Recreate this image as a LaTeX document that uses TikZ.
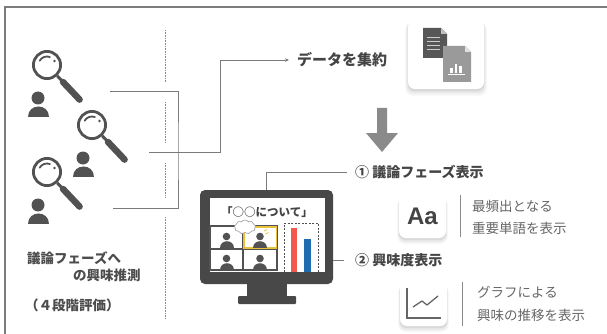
\documentclass[tikz,border=0pt]{standalone}
\usepackage{fontspec}
\newfontfamily\jp{Noto Sans CJK JP}
\newfontfamily\lat{Liberation Sans}
\usetikzlibrary{arrows.meta,shadows,shapes.symbols}

\definecolor{ink}{HTML}{444444}
\definecolor{wirec}{HTML}{7A7A7A}
\definecolor{framec}{HTML}{7C7C7C}
\definecolor{soft}{HTML}{666666}
\definecolor{iconc}{HTML}{525252}
\definecolor{screenc}{HTML}{484848}
\definecolor{arrowc}{HTML}{8A8A8A}
\definecolor{hl}{HTML}{E8C23A}
\definecolor{barred}{HTML}{F2594B}
\definecolor{barblue}{HTML}{1F6CB0}
\definecolor{docdark}{HTML}{575757}
\definecolor{doclight}{HTML}{9A9A9A}

\tikzset{
  wire/.style={draw=wirec, line width=0.9pt},
  divider/.style={draw=arrowc, line width=0.8pt, dash pattern=on 0.8pt off 0.8pt},
  headline/.style={font=\jp\bfseries\fontsize{14}{16}\selectfont, text=ink, inner sep=0pt, anchor=west},
  sidenote/.style={font=\jp\bfseries\fontsize{13.5}{16}\selectfont, text=black!70, inner sep=0pt, anchor=west},
  note/.style={font=\jp\fontsize{13.5}{22.5}\selectfont, text=soft, align=left, inner sep=0pt, anchor=west},
  sep/.style={draw=arrowc, line width=1pt},
  iconbox/.style={rounded corners=7pt, fill=white, draw=none,
    general shadow={fill=black, opacity=0.04, shadow yshift=-4pt, shadow scale=1.07},
    general shadow={fill=black, opacity=0.05, shadow yshift=-3pt, shadow scale=1.04},
    general shadow={fill=black, opacity=0.07, shadow yshift=-2pt, shadow scale=1.01}},
  seeker/.pic={
    \draw[line width=2.8pt, draw=iconc] (0,0) circle (13.6);
    \draw[line width=1.8pt, draw=iconc, line cap=round] (-150:8.5) arc[start angle=-150, end angle=-70, radius=8.5];
    \fill[iconc] (-28:8.5) circle (1.4);
    \draw[line width=3pt, draw=iconc] (10.3,10.9) -- (15.1,16);
    \draw[line width=6.5pt, draw=iconc, line cap=round] (16,17) -- (32.6,34.6);
    \fill[iconc] (-9,33) circle (6.5);
    \fill[iconc] (-19.5,52) .. controls (-19.5,38) and (1.5,38) .. (1.5,52) -- cycle;
  },
  viewer/.pic={
    \fill[iconc] (0,-11.5) circle (3.8);
    \fill[iconc] (-7,0) .. controls (-7,-9.5) and (7,-9.5) .. (7,0) -- cycle;
  }
}

\begin{document}
\begin{tikzpicture}[x=1pt, y=-1pt]
\useasboundingbox (0,0) rectangle (607,334);

% outer frame (open at right and bottom)
\draw[framec, line width=1.6pt] (5,334) -- (5,7) -- (607,7);

% dotted divider
\foreach \a/\b in {30/82, 102/143, 163/197, 217/318}
  \draw[divider] (165,\a) -- (165,\b);

% participants with magnifiers
\pic at (47,65) {seeker};
\pic at (92,125) {seeker};
\pic at (47,172) {seeker};

% collection target
\node[headline, font=\jp\bfseries\fontsize{15}{17}\selectfont] (collect) at (297,60) {データを集約};
\node[iconbox, minimum width=76pt, minimum height=69pt] (docs) at (446,54.5) {};
% text document
\fill[docdark] (423,28) -- (441,28) -- (447,34) -- (447,58) -- (423,58) -- cycle;
\fill[doclight!60] (441,28) -- (441,34) -- (447,34) -- cycle;
\foreach \yy in {38,42,46,50}
  \draw[white!70!docdark, line width=1pt] (427,\yy) -- (440,\yy);
% chart document
\fill[doclight] (443,46) -- (465,46) -- (471,52) -- (471,82) -- (443,82) -- cycle;
\fill[white!70!doclight] (465,46) -- (465,52) -- (471,52) -- cycle;
\fill[white] (450,68) rectangle (452.5,73);
\fill[white] (454.5,64) rectangle (457,73);
\fill[white] (459,66) rectangle (461.5,73);
\draw[white, line width=0.8pt] (448,74.5) -- (465,74.5);

% wiring from the participants
\coordinate (s1) at (110,91);
\coordinate (s2) at (149,152);
\coordinate (s3) at (113,208);
\coordinate (hub) at (178,152);
\coordinate (bend) at (220,152);
\draw[wire] (s1) -| (hub) |- (s3);
\draw[wire, -{Stealth[length=4pt, width=3.5pt]}, shorten >=8pt] (s2) -- (bend) |- (collect.west);

% down arrow
\fill[arrowc] (377,108) -- (387,108) -- (387,133) -- (398,133) -- (382,152) -- (366,133) -- (377,133) -- cycle;

% monitor
\node[fill=screenc, rounded corners=5pt, minimum width=133pt, minimum height=94pt, inner sep=0pt] (mon) at (266.5,237) {};
\fill[white] (210,198) rectangle (325,272);
\fill[screenc] (247,283) rectangle (287,297);
\fill[screenc, rounded corners=1pt] (238,296) rectangle (296,304);
\node[font=\jp\bfseries\fontsize{11.5}{13}\selectfont, text=ink] (topic) at (267,212) {「○○について」};
% video tiles
\draw[iconc, line width=1.2pt] (210,226) rectangle (277,270) (243,226) -- (243,270) (210,249) -- (277,249);
\draw[hl, line width=1.5pt] (244,227) rectangle (276.5,248);
\pic at (226.5,248) {viewer};
\pic at (260,248) {viewer};
\pic at (226.5,270) {viewer};
\pic at (260,270) {viewer};
\node[cloud, cloud puffs=9, cloud puff arc=110, aspect=1.5, draw=black!40, fill=white,
      minimum width=21pt, minimum height=14pt, inner sep=0pt, line width=0.6pt] (thought) at (245,227) {};
\draw[hl, line width=0.7pt] (264,231) -- (267,229.5) (265.5,234) -- (268.5,232.5);
% interest chart
\draw[iconc, line width=0.9pt, dash pattern=on 2pt off 1.5pt] (284,272) -- (284,223) -- (318,223) -- (318,272);
\fill[barred] (291,228) rectangle (297,272);
\fill[barblue] (304,239) rectangle (311,272);

% outputs
\node[headline] (phase) at (355,172) {① 議論フェーズ表示};
\node[headline] (interest) at (355,260) {② 興味度表示};
\draw[wire] (mon.north) |- ([xshift=-8pt]phase.west);
\draw[wire] (mon.east |- interest.west) -- ([xshift=-11pt]interest.west);

\node[iconbox, minimum width=47pt, minimum height=43pt, font=\lat\bfseries\fontsize{24}{26}\selectfont, text=ink] (wordbox) at (422.5,216.5) {Aa};
\draw[sep] (460,195) -- (460,237);
\node[note] (wordnote) at (472,217.5) {最頻出となる\\重要単語を表示};

\node[iconbox, minimum width=47pt, minimum height=44pt] (trendbox) at (423.5,304) {};
\draw[soft, line width=1.2pt] (407,288) -- (407,318) -- (441,318);
\draw[soft, line width=1.3pt, line join=round] (413,307) -- (422,301) -- (427,305) -- (438,296);
\draw[sep] (462,282) -- (462,326);
\node[note] (trendnote) at (477,304) {グラフによる\\興味の推移を表示};

% participant label
\node[sidenote] (q1) at (27,258) {議論フェーズへ};
\node[sidenote] (q2) at (73,275) {の興味推測};
\node[sidenote] (q3) at (25,305) {（４段階評価）};
\end{tikzpicture}
\end{document}
